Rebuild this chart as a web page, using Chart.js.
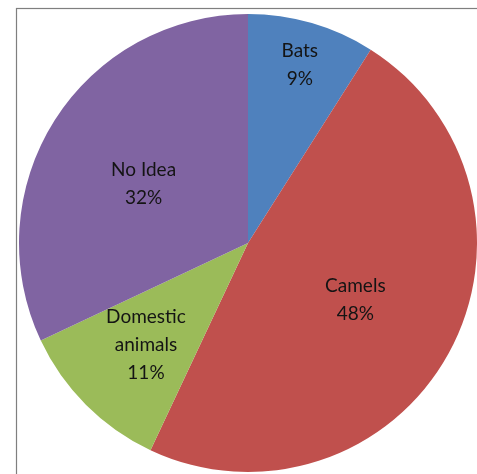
<!DOCTYPE html>
<html>
<head>
<meta charset="utf-8">
<script src="https://cdn.jsdelivr.net/npm/chart.js@4/dist/chart.umd.min.js"></script>
<style>
    html, body { margin: 0; padding: 0; background: #fff; overflow: hidden; }
    #wrap { width: 477px; height: 474px; }
</style>
</head>
<body>
<div id="wrap"><canvas id="pieChart"></canvas></div>
<script>
const labels = [['Bats'], ['Camels'], ['Domestic', 'animals'], ['No Idea']];
const values = [9, 48, 11, 32];
const colors = ['#4f81bd', '#c0504d', '#9bbb59', '#8064a2'];

// label placement: fraction of radius along the slice middle, plus a small nudge
const labelRadius = [0.81, 0.535, 0.63, 0.54];
const labelNudge = [[0, 0], [0, -2], [0, 0], [0, 7]];

const frame = {
    id: 'frame',
    beforeDraw(chart) {
        const c = chart.ctx;
        c.save();
        c.strokeStyle = '#7f7f7f';
        c.lineWidth = 1.2;
        c.strokeRect(16.5, 8.5, 1000, 1000);
        c.restore();
    }
};

const sliceLabels = {
    id: 'sliceLabels',
    afterDatasetsDraw(chart) {
        const c = chart.ctx;
        const arcs = chart.getDatasetMeta(0).data;
        c.save();
        c.fillStyle = '#141414';
        c.font = '19px Lato, "Liberation Sans", sans-serif';
        c.textAlign = 'center';
        c.textBaseline = 'middle';
        arcs.forEach((arc, i) => {
            const mid = (arc.startAngle + arc.endAngle) / 2;
            const r = arc.outerRadius * labelRadius[i];
            const x = arc.x + Math.cos(mid) * r + labelNudge[i][0];
            const y = arc.y + Math.sin(mid) * r + labelNudge[i][1];
            const lines = labels[i].concat([values[i] + '%']);
            const lh = 28;
            lines.forEach((t, k) => {
                c.fillText(t, x, y + (k - (lines.length - 1) / 2) * lh);
            });
        });
        c.restore();
    }
};

new Chart(document.getElementById('pieChart').getContext('2d'), {
    type: 'pie',
    data: {
        labels: labels.map(l => l.join(' ')),
        datasets: [{
            data: values,
            backgroundColor: colors,
            borderWidth: 0
        }]
    },
    options: {
        responsive: true,
        maintainAspectRatio: false,
        animation: false,
        layout: { padding: { left: 19, top: 14, right: 0, bottom: 2 } },
        plugins: {
            legend: { display: false },
            tooltip: { enabled: false }
        }
    },
    plugins: [frame, sliceLabels]
});
</script>
</body>
</html>
